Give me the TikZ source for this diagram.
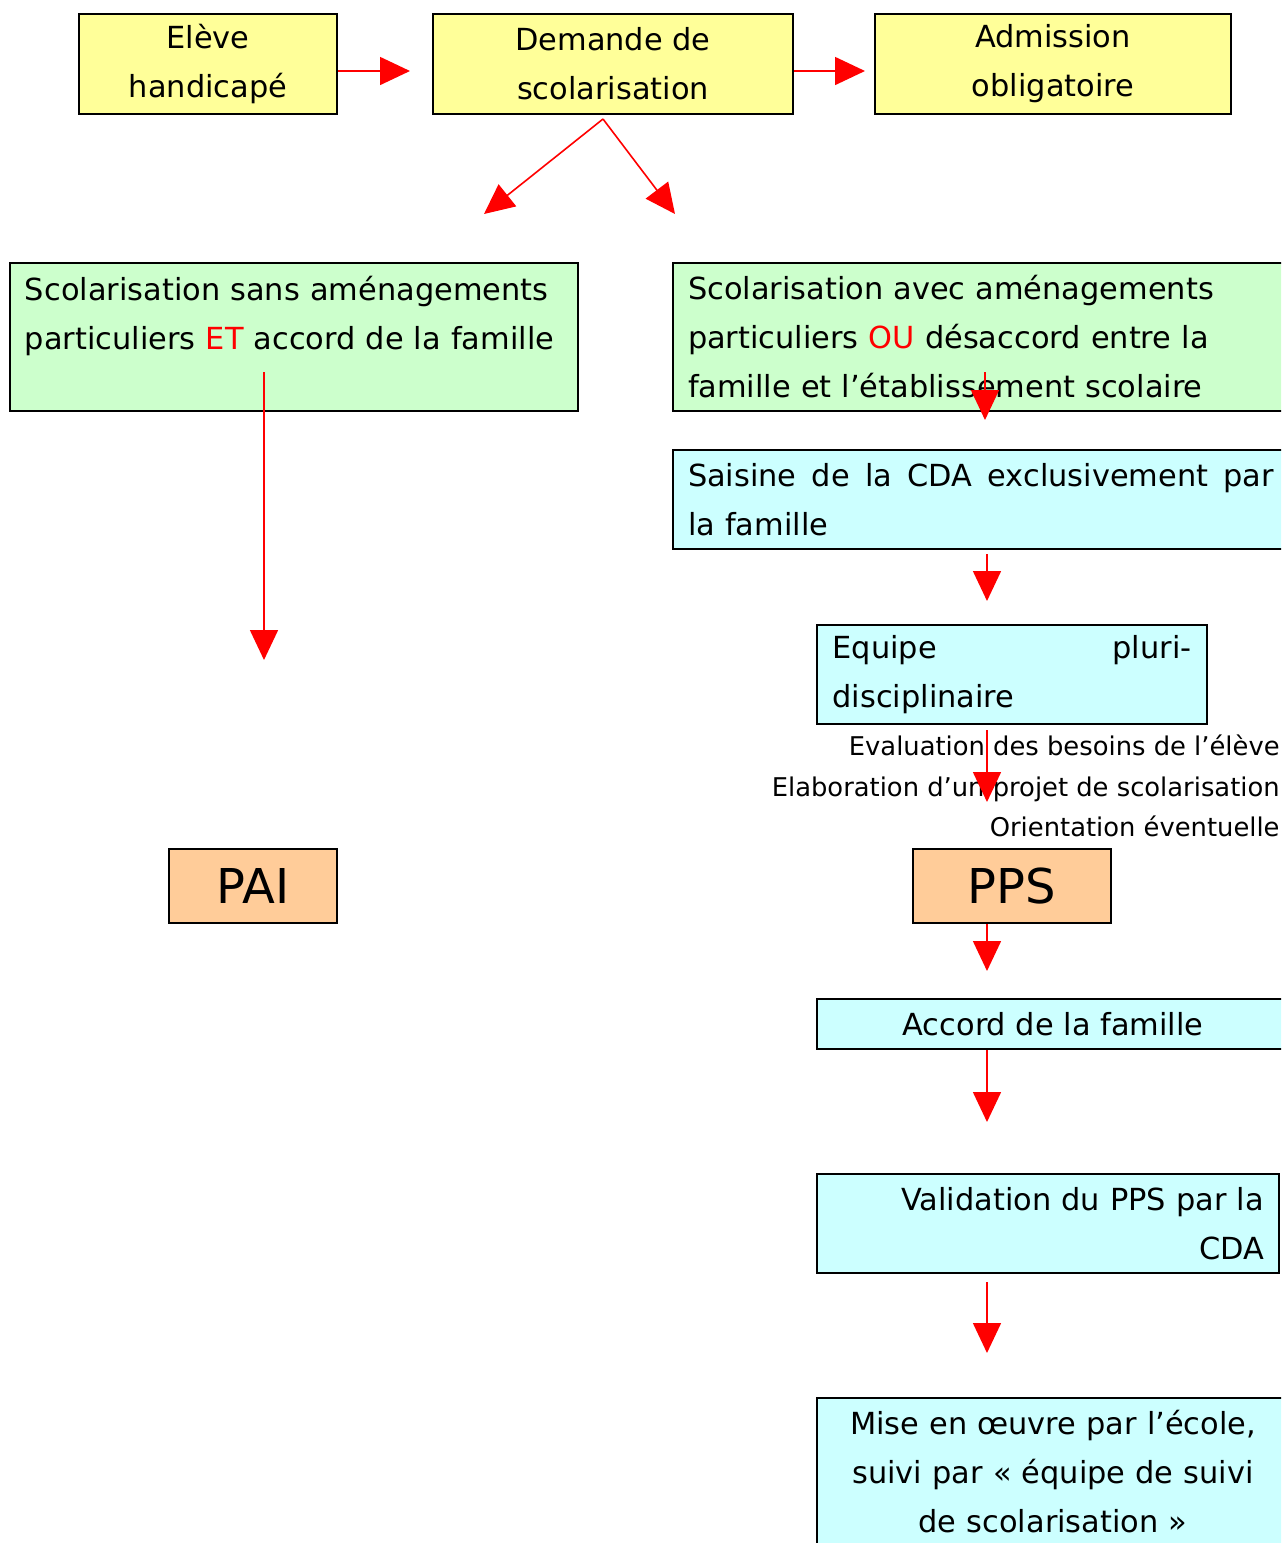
\documentclass[tikz,border=0pt]{standalone}
\usepackage{fontspec}
\setmainfont{DejaVu Sans}
\usetikzlibrary{arrows.meta,positioning}

\definecolor{jaune}{HTML}{FFFF99}
\definecolor{vert}{HTML}{CCFFCC}
\definecolor{bleu}{HTML}{CCFFFF}
\definecolor{saumon}{HTML}{FFCC99}

\def\pxu{0.5pt} % 1 pixel of the reference
\newcommand\corps{\fontsize{15.2}{24.5}\selectfont}
\newcommand\petit{\fontsize{12.9}{20.25}\selectfont}
\newcommand\grand{\fontsize{24}{30}\selectfont}

\tikzset{
boite/.style = {draw = black, line width = 1pt, anchor = north west, inner sep = 0pt, font = \corps},
fleche/.style = {red, line width = 0.8pt, -{Triangle[length = 15pt, width = 14pt]}}
}

\begin{document}
\begin{tikzpicture}[x = \pxu, y = -\pxu]
\clip (0,0) rectangle (1281,1543);

% top row
\node[boite, fill = jaune, minimum width = 258*\pxu, minimum height = 100*\pxu, align = center] (eleve) at (78,13) {Elève\\handicapé};
\node[boite, fill = jaune, minimum width = 360*\pxu, minimum height = 100*\pxu, align = center] (demande) at (432,13) {Demande de\\scolarisation};
\node[boite, fill = jaune, minimum width = 356*\pxu, minimum height = 100*\pxu, align = center] (admission) at (874,13) {Admission\\obligatoire};

% the two cases
\node[boite, fill = vert, minimum width = 568*\pxu, minimum height = 148*\pxu, text width = 538*\pxu, align = left] (sans) at (9,262)
  {Scolarisation sans aménagements\\particuliers \textcolor{red}{ET} accord de la famille\\\mbox{}};
\node[boite, fill = vert, minimum width = 616*\pxu, minimum height = 148*\pxu, text width = 586*\pxu, align = left] (avec) at (672,262)
  {Scolarisation avec aménagements\\particuliers \textcolor{red}{OU} désaccord entre la\\famille et l’établissement scolaire};

% right column
\node[boite, fill = bleu, minimum width = 616*\pxu, minimum height = 99*\pxu, text width = 586*\pxu, align = left] (saisine) at (672,449)
  {\hbox to 293pt{Saisine\hfill de\hfill la\hfill CDA\hfill exclusivement\hfill par}\\la famille};
\node[boite, fill = bleu, minimum width = 390*\pxu, minimum height = 99*\pxu, text width = 359*\pxu, align = left] (equipe) at (816,624)
  {\hbox to 179.5pt{Equipe\hfill pluri-}\\disciplinaire};
\node[anchor = east, align = right, font = \petit, inner sep = 0pt] (missions) at (1280,786)
  {Evaluation des besoins de l’élève\\Elaboration d’un projet de scolarisation\\Orientation éventuelle};

\node[boite, fill = saumon, minimum width = 168*\pxu, minimum height = 74*\pxu, font = \grand] (pai) at (168,848) {PAI};
\node[boite, fill = saumon, minimum width = 198*\pxu, minimum height = 74*\pxu, font = \grand] (pps) at (912,848) {PPS};

\node[boite, fill = bleu, minimum width = 472*\pxu, minimum height = 50*\pxu, align = center] (accord) at (816,998) {Accord de la famille};
\node[boite, fill = bleu, minimum width = 462*\pxu, minimum height = 99*\pxu, text width = 432*\pxu, align = right] (validation) at (816,1173)
  {Validation du PPS par la\\CDA};
\node[boite, fill = bleu, minimum width = 472*\pxu, minimum height = 148*\pxu, text width = 442*\pxu, align = center] (miseoeuvre) at (816,1397)
  {Mise en œuvre par l’école,\\suivi par « équipe de suivi\\de scolarisation »};

% arrow ends
\coordinate (f1) at (410,71);
\coordinate (f2) at (865,71);
\coordinate (d0) at (603,119);
\coordinate (d1) at (484,214);
\coordinate (d2) at (675,214);
\coordinate (g0) at (264,372);
\coordinate (g1) at (264,660);
\coordinate (a0) at (985,372);
\coordinate (a1) at (985,420);
\coordinate (b0) at (987,554);
\coordinate (b1) at (987,601);
\coordinate (c0) at (987,730);
\coordinate (c1) at (987,802);
\coordinate (e1) at (987,971);
\coordinate (h0) at (987,1050);
\coordinate (h1) at (987,1122);
\coordinate (k0) at (987,1282);
\coordinate (k1) at (987,1353);

\draw[fleche] (eleve.east |- f1) -- (f1);
\draw[fleche] (demande.east |- f2) -- (f2);
\draw[fleche] (d0) -- (d1);
\draw[fleche] (d0) -- (d2);
\draw[fleche] (g0) -- (g1);
\draw[fleche] (a0) -- (a1);
\draw[fleche] (b0) -- (b1);
\draw[fleche] (c0) -- (c1);
\draw[fleche] (pps.south -| e1) -- (e1);
\draw[fleche] (h0) -- (h1);
\draw[fleche] (k0) -- (k1);
\end{tikzpicture}
\end{document}
